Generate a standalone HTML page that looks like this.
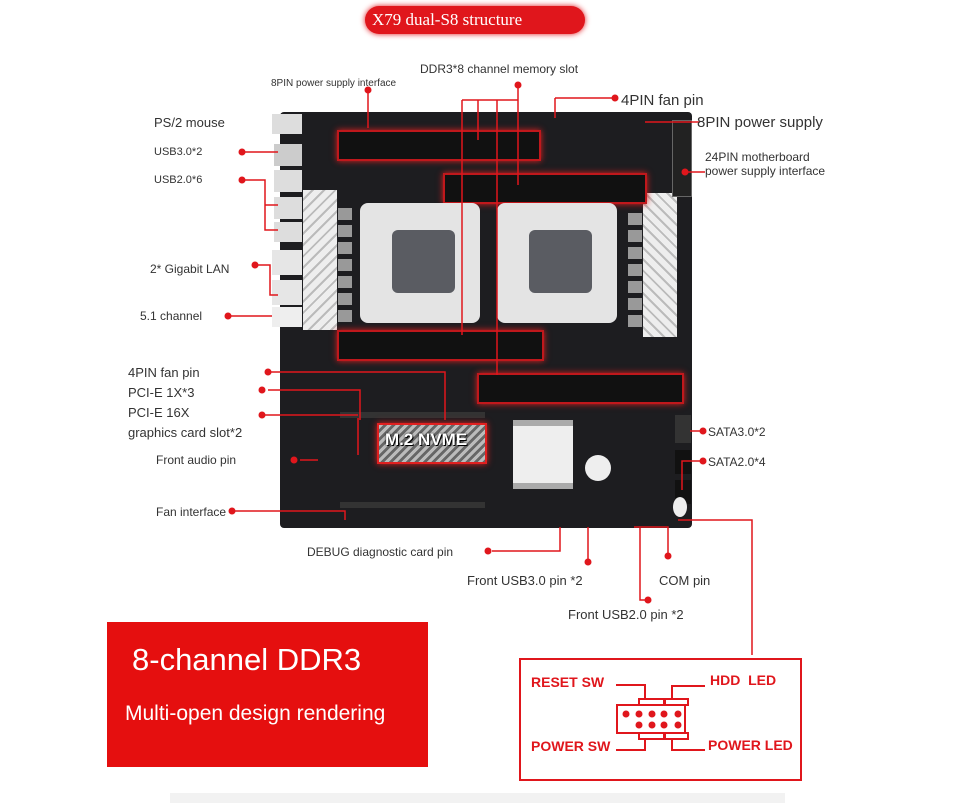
<!DOCTYPE html>
<html><head><meta charset="utf-8"><style>
body{margin:0;width:955px;height:803px;background:#fff;position:relative;overflow:hidden;font-family:"Liberation Sans",sans-serif}
.a{position:absolute}
.t{position:absolute;font-size:12px;color:#333;white-space:nowrap}
</style></head><body>
<div class="a" style="left:365px;top:6px;width:220px;height:28px;background:#e0161c;border-radius:14px;box-shadow:0 0 6px #e0161c"></div>
<div class="t" style="left:372px;top:10px;font-size:17px;color:#fff;font-family:'Liberation Serif',serif">X79 dual-S8 structure</div>

<div class="a" style="left:280px;top:112px;width:412px;height:416px;background:#1d1d20;border-radius:4px"></div>
<div class="a" style="left:272px;top:114px;width:30px;height:20px;background:#ddd"></div>
<div class="a" style="left:274px;top:144px;width:28px;height:22px;background:#ccc"></div>
<div class="a" style="left:274px;top:170px;width:28px;height:22px;background:#ddd"></div>
<div class="a" style="left:274px;top:197px;width:28px;height:22px;background:#ddd"></div>
<div class="a" style="left:274px;top:222px;width:28px;height:20px;background:#ddd"></div>
<div class="a" style="left:272px;top:250px;width:30px;height:25px;background:#e6e6e6"></div>
<div class="a" style="left:272px;top:280px;width:30px;height:25px;background:#e6e6e6"></div>
<div class="a" style="left:272px;top:307px;width:30px;height:20px;background:#eee"></div>
<div class="a" style="left:303px;top:190px;width:34px;height:140px;background:repeating-linear-gradient(135deg,#eee 0 6px,#bbb 6px 8px)"></div>
<div class="a" style="left:643px;top:193px;width:34px;height:144px;background:repeating-linear-gradient(45deg,#eee 0 6px,#bbb 6px 8px)"></div>
<div class="a" style="left:337px;top:130px;width:200px;height:27px;background:#111;border:2px solid #c0181c;box-shadow:0 0 6px #e02020"></div>
<div class="a" style="left:443px;top:173px;width:200px;height:27px;background:#111;border:2px solid #c0181c;box-shadow:0 0 6px #e02020"></div>
<div class="a" style="left:337px;top:330px;width:203px;height:27px;background:#111;border:2px solid #c0181c;box-shadow:0 0 6px #e02020"></div>
<div class="a" style="left:477px;top:373px;width:203px;height:27px;background:#111;border:2px solid #c0181c;box-shadow:0 0 6px #e02020"></div>
<div class="a" style="left:360px;top:203px;width:120px;height:120px;background:#e4e4e4;border-radius:8px"></div>
<div class="a" style="left:392px;top:230px;width:63px;height:63px;background:#5a5c62;border-radius:6px"></div>
<div class="a" style="left:497px;top:203px;width:120px;height:120px;background:#e4e4e4;border-radius:8px"></div>
<div class="a" style="left:529px;top:230px;width:63px;height:63px;background:#5a5c62;border-radius:6px"></div>
<div class="a" style="left:338px;top:208px;width:14px;height:115px;background:repeating-linear-gradient(#999 0 12px,#1d1d20 12px 17px)"></div>
<div class="a" style="left:628px;top:213px;width:14px;height:115px;background:repeating-linear-gradient(#999 0 12px,#1d1d20 12px 17px)"></div>
<div class="a" style="left:340px;top:412px;width:145px;height:6px;background:#333"></div>
<div class="a" style="left:340px;top:502px;width:145px;height:6px;background:#333"></div>
<div class="a" style="left:377px;top:423px;width:106px;height:37px;background:repeating-linear-gradient(135deg,#bbb 0 3px,#666 3px 6px);border:2px solid #e02020;box-shadow:0 0 6px #e02020"></div>
<div class="t" style="left:385px;top:430px;font-size:17px;font-weight:bold;color:#fff;text-shadow:0 0 2px #000,1px 1px 0 #000">M.2 NVME</div>
<div class="a" style="left:513px;top:420px;width:60px;height:57px;background:#eee;border-top:6px solid #aaa;border-bottom:6px solid #aaa"></div>
<div class="a" style="left:585px;top:455px;width:26px;height:26px;background:#eee;border-radius:50%"></div>
<div class="a" style="left:672px;top:120px;width:18px;height:75px;background:#222;border:1px solid #666"></div>
<div class="a" style="left:675px;top:415px;width:16px;height:28px;background:#333"></div>
<div class="a" style="left:675px;top:450px;width:16px;height:24px;background:#111"></div>
<div class="a" style="left:675px;top:480px;width:16px;height:24px;background:#111"></div>
<div class="a" style="left:673px;top:497px;width:14px;height:20px;background:#eee;border-radius:50%"></div>

<svg class="a" style="left:0;top:0" width="955" height="803">
<g stroke="#e0161c" stroke-width="1.5" fill="none">
<path d="M368 90V128M518 85V100M462 100H518M462 100V140M478 100V140M497 100V140M518 100V185M462 140V335M497 140V375M555 98H615M555 98V118M645 122H700M685 172H705M240 152H278M240 180H265V230H278M265 205H278M258 265H270V295H278M228 316H272M268 372H445V420M268 390H360V420M262 415H358M358 418V455M318 460H300M232 511H345V520M492 551H560V527M588 562V527M640 528V600H648M668 556V527H634M700 431H690M703 461H682V490M678 520H752V655"/>
</g>
<g stroke="#e0161c" stroke-width="2" fill="none">
<path d="M616 685H645V699M672 699V686H705M616 750H645V738M672 738V750H705"/>
<rect x="617" y="705" width="68" height="28"/><rect x="639" y="699" width="26" height="6"/><rect x="664" y="699" width="24" height="6"/>
<rect x="639" y="733" width="26" height="6"/><rect x="664" y="733" width="24" height="6"/>
</g>
<g fill="#e0161c">
<circle cx="368" cy="90" r="3.5"/><circle cx="518" cy="85" r="3.5"/><circle cx="615" cy="98" r="3.5"/>
<circle cx="685" cy="172" r="3.5"/><circle cx="242" cy="152" r="3.5"/><circle cx="242" cy="180" r="3.5"/>
<circle cx="255" cy="265" r="3.5"/><circle cx="228" cy="316" r="3.5"/><circle cx="268" cy="372" r="3.5"/>
<circle cx="262" cy="390" r="3.5"/><circle cx="262" cy="415" r="3.5"/><circle cx="294" cy="460" r="3.5"/>
<circle cx="232" cy="511" r="3.5"/><circle cx="488" cy="551" r="3.5"/><circle cx="588" cy="562" r="3.5"/>
<circle cx="648" cy="600" r="3.5"/><circle cx="668" cy="556" r="3.5"/><circle cx="703" cy="431" r="3.5"/><circle cx="703" cy="461" r="3.5"/>
<circle cx="626" cy="714" r="3.5"/><circle cx="639" cy="714" r="3.5"/><circle cx="652" cy="714" r="3.5"/><circle cx="664" cy="714" r="3.5"/><circle cx="678" cy="714" r="3.5"/>
<circle cx="639" cy="725" r="3.5"/><circle cx="652" cy="725" r="3.5"/><circle cx="664" cy="725" r="3.5"/><circle cx="678" cy="725" r="3.5"/>
</g>
</svg>

<div class="t" style="left:271px;top:78px;font-size:10px">8PIN power supply interface</div>
<div class="t" style="left:420px;top:62px">DDR3*8 channel memory slot</div>
<div class="t" style="left:621px;top:92px;font-size:15px">4PIN fan pin</div>
<div class="t" style="left:697px;top:114px;font-size:15px">8PIN power supply</div>
<div class="t" style="left:705px;top:150px">24PIN motherboard<br>power supply interface</div>
<div class="t" style="left:154px;top:115px;font-size:13px">PS/2 mouse</div>
<div class="t" style="left:154px;top:146px;font-size:11px">USB3.0*2</div>
<div class="t" style="left:154px;top:174px;font-size:11px">USB2.0*6</div>
<div class="t" style="left:150px;top:262px">2* Gigabit LAN</div>
<div class="t" style="left:140px;top:309px">5.1 channel</div>
<div class="t" style="left:128px;top:363px;font-size:13px;line-height:20px">4PIN fan pin<br>PCI-E 1X*3<br>PCI-E 16X<br>graphics card slot*2</div>
<div class="t" style="left:156px;top:453px">Front audio pin</div>
<div class="t" style="left:156px;top:505px">Fan interface</div>
<div class="t" style="left:307px;top:545px">DEBUG diagnostic card pin</div>
<div class="t" style="left:467px;top:573px;font-size:13px">Front USB3.0 pin *2</div>
<div class="t" style="left:659px;top:573px;font-size:13px">COM pin</div>
<div class="t" style="left:568px;top:607px;font-size:13px">Front USB2.0 pin *2</div>
<div class="t" style="left:708px;top:425px">SATA3.0*2</div>
<div class="t" style="left:708px;top:455px">SATA2.0*4</div>

<div class="a" style="left:107px;top:622px;width:321px;height:145px;background:#e50f0f"></div>
<div class="t" style="left:132px;top:642px;font-size:31px;color:#fff">8-channel DDR3</div>
<div class="t" style="left:125px;top:702px;font-size:21px;color:#fff">Multi-open design rendering</div>

<div class="a" style="left:519px;top:658px;width:279px;height:119px;border:2px solid #e0161c"></div>
<div class="t" style="left:531px;top:674px;font-size:14px;color:#e0161c;font-weight:bold">RESET SW</div>
<div class="t" style="left:710px;top:672px;font-size:14px;color:#e0161c;font-weight:bold">HDD&nbsp; LED</div>
<div class="t" style="left:531px;top:738px;font-size:14px;color:#e0161c;font-weight:bold">POWER SW</div>
<div class="t" style="left:708px;top:737px;font-size:14px;color:#e0161c;font-weight:bold">POWER LED</div>
<div class="a" style="left:170px;top:793px;width:615px;height:10px;background:#f2f2f2"></div>
</body></html>
